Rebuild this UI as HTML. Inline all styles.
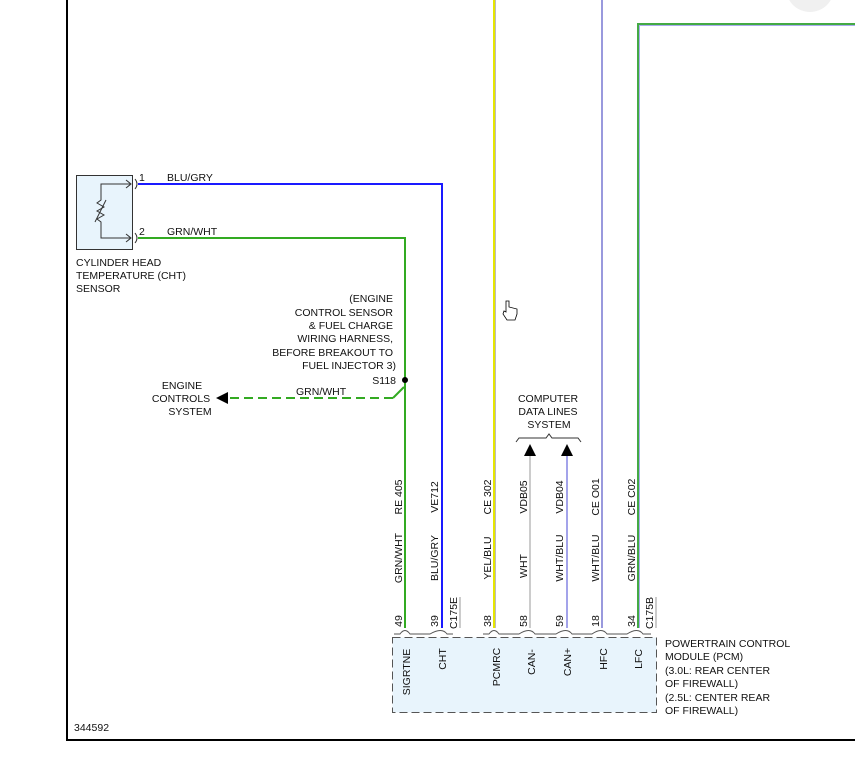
<!DOCTYPE html>
<html><head><meta charset="utf-8"><style>
html,body{margin:0;padding:0;background:#fff;width:855px;height:760px;overflow:hidden}
svg text{font-family:"Liberation Sans",Arial,sans-serif;font-size:10.5px;fill:#111}
</style></head><body>
<svg width="855" height="760" viewBox="0 0 855 760" xmlns="http://www.w3.org/2000/svg">
<circle cx="810" cy="-12" r="24" fill="#f0f0f0"/>
<!-- frame -->
<line x1="67" y1="0" x2="67" y2="740" stroke="#000" stroke-width="2"/>
<line x1="66" y1="740" x2="855" y2="740" stroke="#000" stroke-width="2"/>
<!-- sensor -->
<rect x="76.5" y="175.5" width="56" height="74" fill="#e8f4fc" stroke="#333"/>
<polyline points="130,184 101,184 101,200 97,203 104,207 97,211 104,215 97,219 101,222 101,238 130,238" fill="none" stroke="#333"/>
<line x1="95" y1="222" x2="106" y2="200" stroke="#333"/>
<path d="M126,180 L131,184 L126,188 M126,234 L131,238 L126,242" fill="none" stroke="#333"/>
<path d="M135,179 Q139,184 135,189 M135,233 Q139,238 135,243" fill="none" stroke="#333"/>
<text x="139" y="181" fill="#6a1b6a">1</text><text x="139" y="235">2</text>
<text x="167" y="181">BLU/GRY</text><text x="167" y="235">GRN/WHT</text>
<text x="76" y="266">CYLINDER HEAD</text><text x="76" y="279">TEMPERATURE (CHT)</text><text x="76" y="292">SENSOR</text>
<!-- wires -->
<polyline points="138,184 442,184 442,628" fill="none" stroke="#1a1aff" stroke-width="2"/>
<polyline points="138,238 405,238 405,628" fill="none" stroke="#33aa22" stroke-width="2"/>
<line x1="494" y1="0" x2="494" y2="628" stroke="#e6e600" stroke-width="2"/>
<line x1="495.5" y1="0" x2="495.5" y2="628" stroke="#bbb" stroke-width="1"/>
<line x1="530" y1="450" x2="530" y2="628" stroke="#ccc" stroke-width="2"/>
<line x1="567" y1="450" x2="567" y2="628" stroke="#6666dd" stroke-width="1.2"/>
<line x1="602" y1="0" x2="602" y2="628" stroke="#9999dd" stroke-width="2"/>
<polyline points="638,628 638,24 855,24" fill="none" stroke="#44aa44" stroke-width="2"/>
<polyline points="639.5,628 639.5,25.5 855,25.5" fill="none" stroke="#aaaaee" stroke-width="1"/>
<!-- splice -->
<circle cx="405" cy="380" r="3" fill="#000"/>
<line x1="404" y1="387" x2="393" y2="398" stroke="#33aa22" stroke-width="2"/>
<line x1="393" y1="398" x2="228" y2="398" stroke="#33aa22" stroke-width="2" stroke-dasharray="9,5"/>
<polygon points="216,398 228,392 228,404" fill="#000"/>
<text x="296" y="395">GRN/WHT</text>
<g text-anchor="end"><text x="393" y="302">(ENGINE</text><text x="393" y="316">CONTROL SENSOR</text><text x="393" y="329">&amp; FUEL CHARGE</text><text x="393" y="342">WIRING HARNESS,</text><text x="393" y="356">BEFORE BREAKOUT TO</text><text x="396" y="369">FUEL INJECTOR 3)</text><text x="396" y="384">S118</text></g>
<g text-anchor="middle"><text x="182" y="389">ENGINE</text><text x="181" y="402">CONTROLS</text><text x="190" y="415">SYSTEM</text>
<text x="548" y="402">COMPUTER</text><text x="548" y="415">DATA LINES</text><text x="549" y="428">SYSTEM</text></g>
<path d="M516,442 L519,438 L546,438 L549,434 L552,438 L578,438 L581,442" fill="none" stroke="#333"/>
<polygon points="530,444 524,456 536,456" fill="#000"/>
<polygon points="567,444 561,456 573,456" fill="#000"/>
<!-- vertical labels -->
<g text-anchor="middle">
<text transform="translate(402,497) rotate(-90)">RE 405</text>
<text transform="translate(438,497) rotate(-90)">VE712</text>
<text transform="translate(491,497) rotate(-90)">CE 302</text>
<text transform="translate(527,497) rotate(-90)">VDB05</text>
<text transform="translate(563,497) rotate(-90)">VDB04</text>
<text transform="translate(599,497) rotate(-90)">CE O01</text>
<text transform="translate(635,497) rotate(-90)">CE C02</text>
<text transform="translate(402,558) rotate(-90)">GRN/WHT</text>
<text transform="translate(438,558) rotate(-90)">BLU/GRY</text>
<text transform="translate(491,558) rotate(-90)">YEL/BLU</text>
<text transform="translate(527,566) rotate(-90)">WHT</text>
<text transform="translate(563,558) rotate(-90)">WHT/BLU</text>
<text transform="translate(599,558) rotate(-90)">WHT/BLU</text>
<text transform="translate(635,558) rotate(-90)">GRN/BLU</text>
<text transform="translate(402,621) rotate(-90)">49</text>
<text transform="translate(438,621) rotate(-90)">39</text>
<text transform="translate(491,621) rotate(-90)">38</text>
<text transform="translate(527,621) rotate(-90)">58</text>
<text transform="translate(563,621) rotate(-90)">59</text>
<text transform="translate(599,621) rotate(-90)">18</text>
<text transform="translate(635,621) rotate(-90)">34</text>
<text transform="translate(457,613) rotate(-90)">C175E</text>
<text transform="translate(653,613) rotate(-90)">C175B</text>
</g>
<line x1="460" y1="597" x2="460" y2="628" stroke="#999"/>
<line x1="656" y1="597" x2="656" y2="628" stroke="#999"/>
<!-- PCM box -->
<rect x="392.5" y="637.5" width="264" height="75" fill="#e8f4fc" stroke="#555" stroke-dasharray="8,4"/>
<path d="M394,634 L400,634 Q405,627 410,634 L430,634 Q442,627 447,634 L453,634 M483,634 L489,634 Q494,627 499,634 L519,634 Q530,627 535,634 L556,634 Q567,627 572,634 L592,634 Q602,627 607,634 L627,634 Q638,627 643,634 L651,634" fill="none" stroke="#555"/>
<g text-anchor="middle">
<text transform="translate(410,672) rotate(-90)">SIGRTNE</text>
<text transform="translate(446,659) rotate(-90)">CHT</text>
<text transform="translate(500,667) rotate(-90)">PCMRC</text>
<text transform="translate(535,662) rotate(-90)">CAN-</text>
<text transform="translate(571,662) rotate(-90)">CAN+</text>
<text transform="translate(607,659) rotate(-90)">HFC</text>
<text transform="translate(642,659) rotate(-90)">LFC</text>
</g>
<text x="665" y="647">POWERTRAIN CONTROL</text><text x="665" y="660">MODULE (PCM)</text><text x="665" y="674">(3.0L: REAR CENTER</text><text x="665" y="687">OF FIREWALL)</text><text x="665" y="701">(2.5L: CENTER REAR</text><text x="665" y="714">OF FIREWALL)</text>
<text x="74" y="731">344592</text>
<!-- cursor -->
<path d="M506,301 L506,312 L504,311 L503,314 L507,320 L515,320 L517,314 L517,309 L509,307 L509,301 Z" fill="#fff" stroke="#000" stroke-width="0.8"/>
</svg>
</body></html>
